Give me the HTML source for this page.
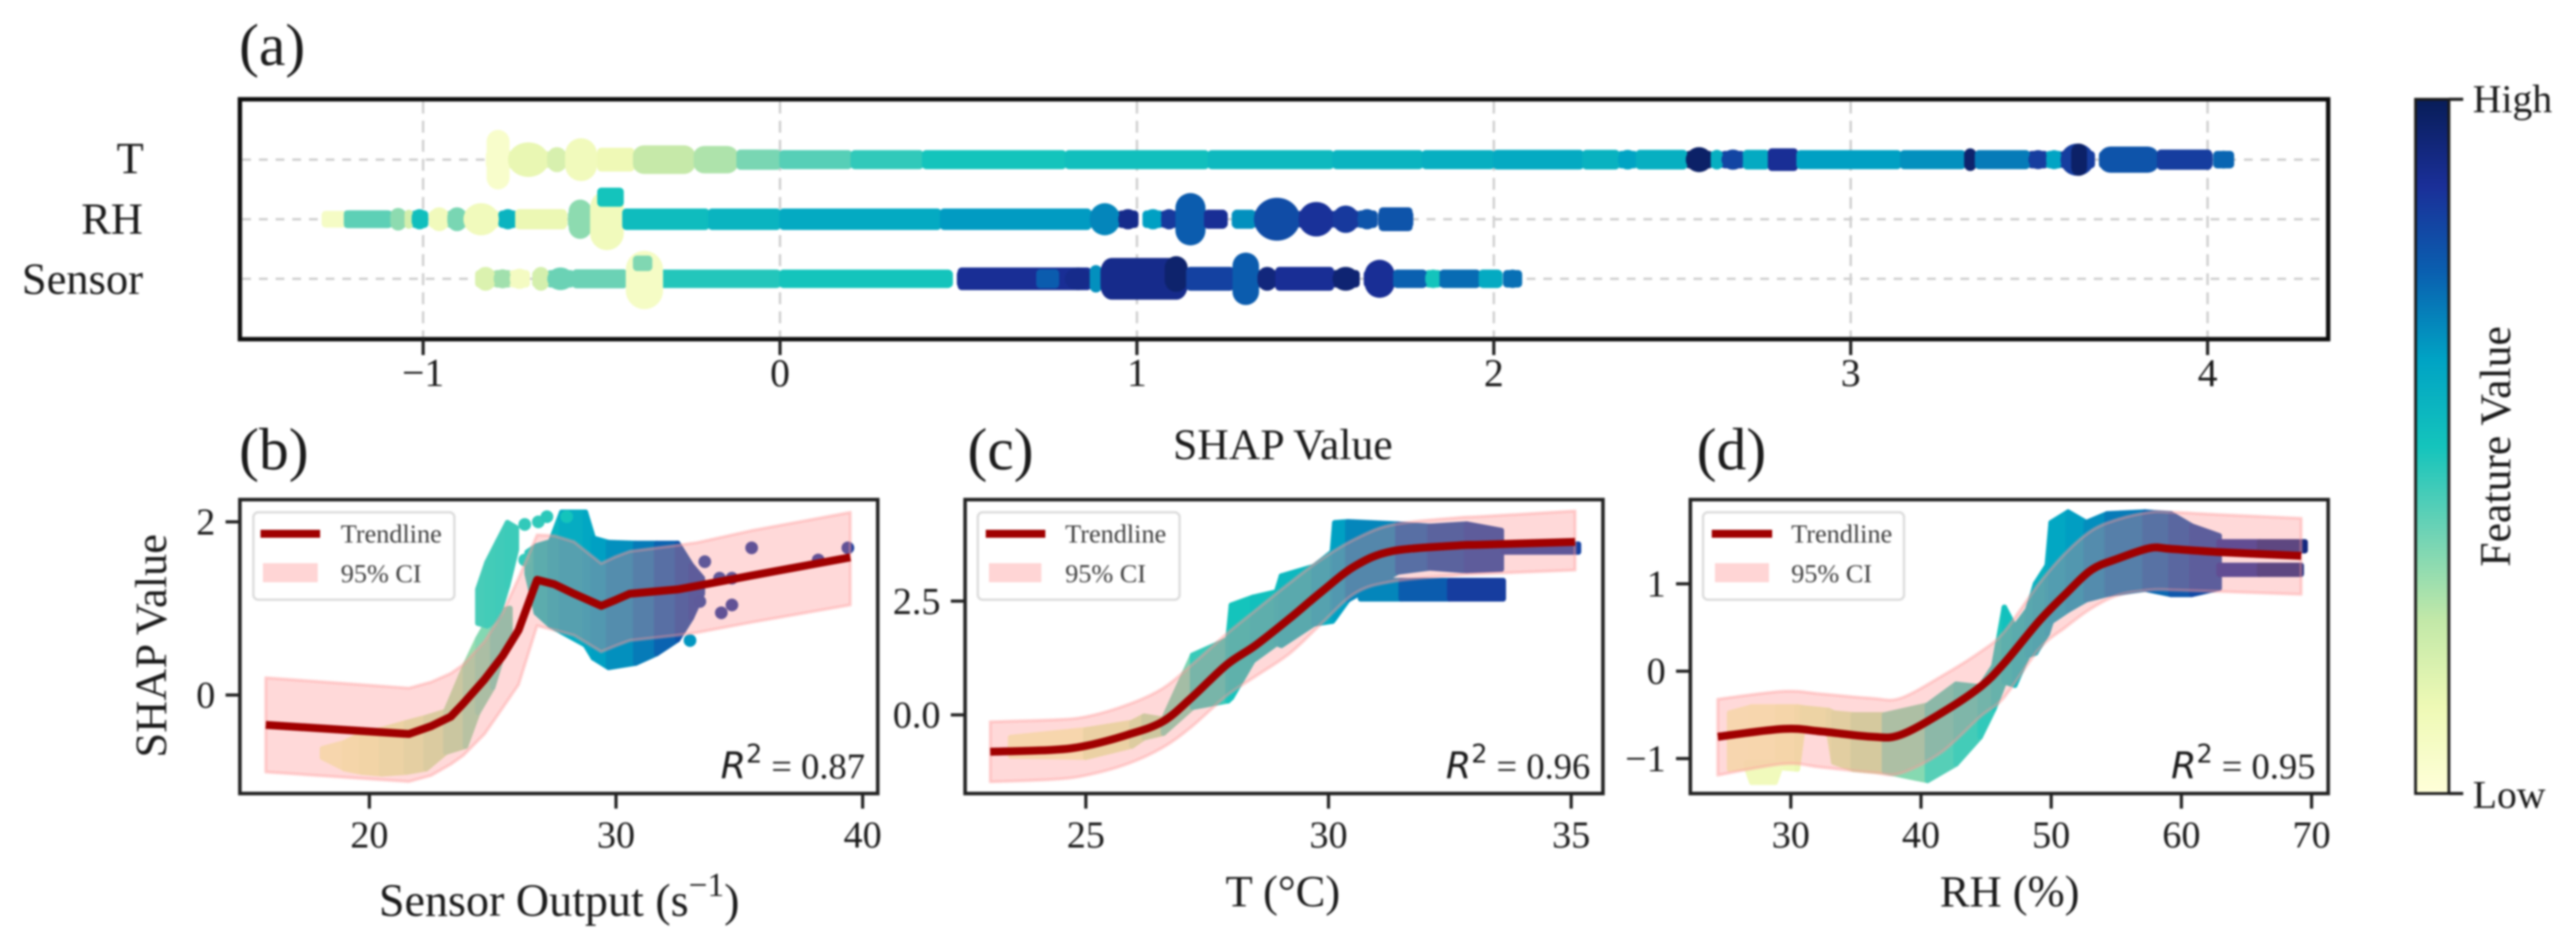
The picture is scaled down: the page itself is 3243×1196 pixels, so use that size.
<!DOCTYPE html>
<html lang="en">
<head>
<meta charset="utf-8">
<title>SHAP analysis figure</title>
<style>
html,body{margin:0;padding:0;background:#fff;}
body{width:3243px;height:1196px;overflow:hidden;}
svg{display:block;filter:blur(1.2px);}
text{font-family:"Liberation Serif",serif;fill:#1a1a1a;}
</style>
</head>
<body>
<svg id="figure" xmlns="http://www.w3.org/2000/svg" width="3243" height="1196" viewBox="0 0 3243 1196">
  <rect x="0" y="0" width="3243" height="1196" fill="#fff"/>
  <defs><linearGradient id="cbar-gradient" x1="0" y1="1" x2="0" y2="0"></linearGradient></defs>

  <text x="301" y="82" font-size="75">(a)</text>
  <text x="301" y="591" font-size="75">(b)</text>
  <text x="1218" y="591" font-size="75">(c)</text>
  <text x="2136" y="591" font-size="75">(d)</text>

  <g id="a-grid"></g>
  <g id="a-marks"></g>
  <rect x="302" y="125" width="2629" height="302" fill="none" stroke="#0c0c0c" stroke-width="5.5"/>
  <g id="a-ticks"></g>
  <text x="181" y="218" font-size="56" text-anchor="end">T</text>
  <text x="180" y="294" font-size="56" text-anchor="end">RH</text>
  <text x="180" y="370" font-size="56" text-anchor="end">Sensor</text>
  <text x="1615" y="578" font-size="55" text-anchor="middle">SHAP Value</text>

  <g id="b-marks"></g>
  <rect x="302" y="629" width="803" height="370" fill="none" stroke="#222" stroke-width="4.5"/>
  <g id="b-ticks"></g>
  <text transform="translate(209,813) rotate(-90)" font-size="56" text-anchor="middle">SHAP Value</text>
  <text x="704" y="1153" font-size="58" text-anchor="middle">Sensor Output (s<tspan font-size="42" dy="-25">−1</tspan><tspan dy="25">)</tspan></text>
  <g>
    <rect x="319" y="645" width="253" height="110" rx="6" fill="#fff" fill-opacity="0.8" stroke="#dcdcdc" stroke-width="3"/>
    <line x1="328" y1="672" x2="403" y2="672" stroke="#a00000" stroke-width="10"/>
    <rect x="331" y="709" width="69" height="24" fill="#ff8a8a" fill-opacity="0.36"/>
    <text x="429" y="683" font-size="33" fill-opacity="0.85">Trendline</text>
    <text x="429" y="733" font-size="33" fill-opacity="0.85">95% CI</text>
  </g>
  <text x="1089" y="980" text-anchor="end" font-size="46"><tspan font-family="DejaVu Sans" font-style="italic">R</tspan><tspan font-family="DejaVu Sans" font-size="32" dy="-20">2</tspan><tspan dy="20"> = 0.87</tspan></text>

  <g id="c-marks"></g>
  <rect x="1215" y="629" width="803" height="370" fill="none" stroke="#222" stroke-width="4.5"/>
  <g id="c-ticks"></g>
  <text x="1615" y="1141" font-size="56" text-anchor="middle">T (°C)</text>
  <g>
    <rect x="1231" y="645" width="254" height="110" rx="6" fill="#fff" fill-opacity="0.8" stroke="#dcdcdc" stroke-width="3"/>
    <line x1="1241" y1="672" x2="1316" y2="672" stroke="#a00000" stroke-width="10"/>
    <rect x="1245" y="709" width="66" height="24" fill="#ff8a8a" fill-opacity="0.36"/>
    <text x="1341" y="683" font-size="33" fill-opacity="0.85">Trendline</text>
    <text x="1341" y="733" font-size="33" fill-opacity="0.85">95% CI</text>
  </g>
  <text x="2002" y="980" text-anchor="end" font-size="46"><tspan font-family="DejaVu Sans" font-style="italic">R</tspan><tspan font-family="DejaVu Sans" font-size="32" dy="-20">2</tspan><tspan dy="20"> = 0.96</tspan></text>

  <g id="d-marks"></g>
  <rect x="2128" y="629" width="803" height="370" fill="none" stroke="#222" stroke-width="4.5"/>
  <g id="d-ticks"></g>
  <text x="2530" y="1141" font-size="56" text-anchor="middle">RH (%)</text>
  <g>
    <rect x="2144" y="645" width="253" height="110" rx="6" fill="#fff" fill-opacity="0.8" stroke="#dcdcdc" stroke-width="3"/>
    <line x1="2155" y1="672" x2="2231" y2="672" stroke="#a00000" stroke-width="10"/>
    <rect x="2159" y="709" width="68" height="24" fill="#ff8a8a" fill-opacity="0.36"/>
    <text x="2255" y="683" font-size="33" fill-opacity="0.85">Trendline</text>
    <text x="2255" y="733" font-size="33" fill-opacity="0.85">95% CI</text>
  </g>
  <text x="2915" y="980" text-anchor="end" font-size="46"><tspan font-family="DejaVu Sans" font-style="italic">R</tspan><tspan font-family="DejaVu Sans" font-size="32" dy="-20">2</tspan><tspan dy="20"> = 0.95</tspan></text>

  <g>
    <rect x="3041" y="125" width="42" height="874" fill="url(#cbar-gradient)" stroke="#1a1a1a" stroke-width="3.5"/>
    <line x1="3083" y1="125" x2="3101" y2="125" stroke="#222" stroke-width="4"/>
    <line x1="3083" y1="999" x2="3101" y2="999" stroke="#222" stroke-width="4"/>
    <text x="3113" y="141" font-size="50">High</text>
    <text x="3113" y="1017" font-size="50">Low</text>
    <text transform="translate(3160,562) rotate(-90)" font-size="55" text-anchor="middle">Feature Value</text>
  </g>
</svg>

<script>
/* ---------- Panel (a): beeswarm clusters ---------- */
const aTicks = [-1, 0, 1, 2, 3, 4];
const aRows = ['T', 'RH', 'Sensor'];

const tStart   = [-.82,-.76,-.65,-.6,-.51,-.41,-.24,-.12,0,.2,.4,.8,1.2,1.55,1.8,2,2.25,2.35,2.4,2.54,2.61,2.64,2.7,2.77,2.85,3.14,3.32,3.35,3.5,3.55,3.59,3.62,3.7,3.86,4.02];
const tEnd     = [-.76,-.65,-.6,-.515,-.41,-.24,-.12,0,.2,.4,.8,1.2,1.55,1.8,2,2.25,2.35,2.4,2.54,2.61,2.64,2.7,2.77,2.85,3.14,3.32,3.35,3.5,3.55,3.59,3.68,3.66,3.86,4.01,4.07];
const tSpread  = [.5,.29,.21,.36,.2,.24,.23,.17,.16,.16,.16,.16,.16,.16,.16,.165,.165,.165,.165,.21,.165,.17,.165,.19,.16,.16,.19,.16,.16,.16,.27,.27,.22,.17,.15];
const tOffset  = [0,0,0,0,0,0,0,0,0,0,0,0,0,0,0,0,0,0,0,0,0,0,0,0,0,0,0,0,0,0,0,0,0,0,0];
const tFeature = [.05,.14,.19,.1,.12,.24,.28,.36,.41,.46,.5,.52,.54,.56,.58,.6,.57,.62,.58,.97,.58,.82,.6,.88,.63,.66,.96,.7,.84,.62,.84,.97,.78,.84,.74];

const rhStart   = [-1.28,-1.22,-1.09,-1.05,-1.03,-.98,-.93,-.885,-.785,-.74,-.59,-.53,-.44,-.2,0,.45,.87,.95,1.02,1.07,1.11,1.19,1.27,1.33,1.455,1.55,1.62,1.68,-.51];
const rhEnd     = [-1.22,-1.09,-1.05,-1.03,-.99,-.93,-.88,-.79,-.74,-.6,-.53,-.44,-.2,0,.45,.87,.95,1.0,1.07,1.11,1.19,1.25,1.33,1.455,1.55,1.62,1.67,1.77,-.44];
const rhSpread  = [.14,.15,.19,.16,.17,.2,.2,.27,.17,.17,.33,.5,.18,.18,.18,.18,.27,.17,.17,.17,.44,.16,.16,.36,.29,.23,.17,.2,.16];
const rhOffset  = [0,0,0,0,0,0,0,0,0,0,0,.02,0,0,0,0,0,0,0,0,0,0,0,0,0,0,0,0,-.37];
const rhFeature = [.07,.4,.33,.2,.52,.1,.36,.1,.56,.13,.33,.1,.53,.56,.6,.64,.68,.9,.63,.85,.76,.88,.66,.8,.87,.85,.78,.78,.5];

const sStart   = [-.85,-.8,-.755,-.69,-.65,-.58,-.34,-.43,-.41,0,.5,.72,.8,.87,.9,1.08,1.14,1.27,1.34,1.39,1.55,1.64,1.72,1.81,1.85,1.96,2.03];
const sEnd     = [-.8,-.755,-.705,-.65,-.58,-.43,0,-.33,-.36,.48,.87,.78,.87,.9,1.14,1.14,1.27,1.34,1.39,1.55,1.62,1.72,1.81,1.85,1.96,2.02,2.075];
const sSpread  = [.2,.16,.17,.2,.19,.16,.155,.49,.13,.155,.19,.16,.19,.23,.35,.3,.2,.44,.2,.2,.2,.32,.155,.155,.155,.155,.155];
const sOffset  = [0,0,0,0,0,0,0,.02,-.26,0,0,0,0,0,0,-.08,0,0,0,0,0,0,0,0,0,0,0];
const sFeature = [.18,.3,.08,.2,.38,.38,.48,.07,.35,.5,.88,.76,.9,.66,.9,.96,.83,.76,.93,.88,.95,.88,.75,.5,.73,.6,.72];

/* ---------- Panel (b): SHAP vs Sensor Output ---------- */
const bTicksX = [20, 30, 40];
const bTicksY = [0, 2];
const bBandX  = [15.8,21.6,22.5,23.3,23.8,24.67,25.4,26.05,26.8,27.5,28.3,29.4,30.0,30.56,32.5,33.27,35.5,39.5];
const bTrend  = [-.345,-.45,-.36,-.25,-.1,.18,.45,.75,1.33,1.28,1.17,1.03,1.1,1.17,1.22,1.26,1.38,1.59];
const bUpper  = [.2,.08,.15,.25,.35,.62,.95,1.35,1.85,1.84,1.77,1.52,1.6,1.66,1.73,1.76,1.9,2.11];
const bLower  = [-.89,-1.0,-.93,-.8,-.7,-.45,-.15,.12,.8,.75,.69,.5,.57,.63,.69,.72,.84,1.04];

const bLowCloudX    = [18.1,19,19.7,20.5,21.5,22.3,23.1,23.9,24.4,25,25.7];
const bLowCloudLow  = [-.72,-.85,-.89,-.91,-.89,-.85,-.66,-.59,-.2,.09,.75];
const bLowCloudHigh = [-.62,-.55,-.45,-.4,-.32,-.26,-.19,.35,.65,.95,1.0];
const bLowCloudFeat = [.08,.1,.12,.14,.17,.2,.25,.3,.33,.36,.4];

const bLobeX    = [24.4,24.77,25.2,25.6,25.96];
const bLobeLow  = [.83,.8,.89,1.26,1.68];
const bLobeHigh = [1.22,1.53,1.77,1.99,1.93];
const bLobeFeat = [.43,.43,.44,.44,.45];

const bMainX    = [26.4,26.77,27.35,27.8,28.76,29.08,29.7,30.8,31.65,32.5,33.05,33.5];
const bMainLow  = [1.40,.95,.8,.73,.58,.43,.32,.37,.48,.64,.89,1.17];
const bMainHigh = [1.65,1.72,1.77,2.11,2.11,1.81,1.76,1.75,1.75,1.75,1.5,1.35];
const bMainFeat = [.45,.5,.55,.58,.6,.62,.64,.68,.72,.77,.8,.82];

const bDotX    = [26.3,26.85,27.2,26.3,28,33.6,35.5,39.4,38.2,34.2,34.7,33.4,34.27,34.7,33];
const bDotY    = [1.97,2.0,2.06,1.56,2.06,1.54,1.70,1.70,1.56,1.35,1.35,1.08,.95,1.04,.63];
const bDotFeat = [.46,.46,.47,.46,.5,.83,.85,.85,.85,.83,.83,.82,.85,.85,.65];

/* ---------- Panel (c): SHAP vs T ---------- */
const cTicksX = [25, 30, 35];
const cTicksY = [0, 2.5];
const cTickLabelsY = ['0.0', '2.5'];
const cBandX  = [23.03,24.3,25,25.85,26.58,27.18,27.9,28.5,29.2,29.85,30.56,31.32,32.63,33.15,35.08];
const cTrend  = [-.81,-.77,-.68,-.44,-.15,.38,1.1,1.53,2.12,2.7,3.28,3.6,3.72,3.74,3.8];
const cUpper  = [-.15,-.11,-.04,.22,.58,1.1,1.78,2.3,2.9,3.42,3.87,4.18,4.33,4.36,4.48];
const cLower  = [-1.47,-1.42,-1.33,-1.08,-.72,-.26,.42,.85,1.35,2.0,2.68,2.93,3.07,3.1,3.18];

const cMainX    = [23.45,25,25.95,26.2,26.6,27.2,27.93,28.0,28.44,28.93,29.03,29.7,30.08,30.13,30.4,31.43,32.09,32.85,33.56];
const cMainHigh = [-.5,-.33,-.17,-.03,-.1,1.31,1.66,2.41,2.58,2.7,3.05,3.26,3.58,4.22,4.24,4.19,4.14,4.19,4.05];
const cMainLow  = [-.9,-.93,-.68,-.5,-.4,.17,.31,.38,1.19,1.57,1.53,2.0,2.06,2.13,2.53,3.14,3.23,3.17,3.2];
const cMainFeat = [.06,.12,.2,.24,.3,.42,.48,.5,.5,.53,.53,.56,.6,.62,.64,.72,.77,.8,.82];

const cBranchX    = [30.66,31.5,32.5,33.6];
const cBranchLow  = [2.55,2.55,2.55,2.55];
const cBranchHigh = [2.95,2.95,2.95,2.95];
const cBranchFeat = [.64,.72,.8,.88];

const cTailX    = [33.6,35.15];
const cTailLow  = [3.58,3.58];
const cTailHigh = [3.75,3.75];
const cTailFeat = [.82,.84];

/* ---------- Panel (d): SHAP vs RH ---------- */
const dTicksX = [30, 40, 50, 60, 70];
const dTicksY = [-1, 0, 1];
const dBandX  = [24.39,29.46,32.35,36.25,38.4,41.55,44.55,46.38,49.05,51.08,53.1,55.15,57.6,59.2,63.3,69.2];
const dTrend  = [-.75,-.66,-.69,-.75,-.73,-.48,-.18,.09,.57,.88,1.16,1.29,1.41,1.4,1.36,1.32];
const dUpper  = [-.32,-.23,-.26,-.31,-.31,-.06,.22,.45,1.0,1.35,1.61,1.74,1.82,1.82,1.79,1.75];
const dLower  = [-1.19,-1.06,-1.1,-1.16,-1.17,-.93,-.52,-.3,.25,.5,.72,.87,.93,.93,.91,.88];

const dMainX    = [25.3,27,29,30.5,30.9,32.9,33.3,34.8,37.2,40.5,42.7,44.55,45.6,46.4,47.2,48.2,48.8,49.7,50,51.3,52.7,54.3,57.2,59.2,60.8,62.9];
const dMainHigh = [-.48,-.41,-.41,-.41,-.42,-.45,-.48,-.5,-.5,-.39,-.15,-.18,.06,.73,.5,.7,1.0,1.21,1.7,1.82,1.7,1.8,1.82,1.8,1.66,1.55];
const dMainLow  = [-1.12,-1.1,-1.1,-1.12,-.67,-.67,-1.04,-1.12,-1.15,-1.25,-1.06,-.75,-.43,-.12,-.16,.18,.21,.43,.57,.7,.82,.88,.94,.88,.88,.95];
const dMainFeat = [.08,.08,.1,.12,.14,.16,.18,.22,.28,.4,.42,.45,.47,.5,.52,.55,.56,.58,.6,.62,.65,.68,.72,.75,.79,.82];

const dPaleLobeX    = [26.6,27,28.8,29.2];
const dPaleLobeLow  = [-1.1,-1.27,-1.27,-1.1];
const dPaleLobeHigh = [-1.05,-1.05,-1.05,-1.05];
const dPaleLobeFeat = [.1,.1,.1,.1];

const dUpperTailX    = [62.9,66,69.5];
const dUpperTailLow  = [1.38,1.38,1.38];
const dUpperTailHigh = [1.48,1.48,1.48];
const dUpperTailFeat = [.84,.9,.95];

const dLowerTailX    = [62.9,66,69.2];
const dLowerTailLow  = [1.11,1.11,1.11];
const dLowerTailHigh = [1.21,1.21,1.21];
const dLowerTailFeat = [.84,.9,.95];

/* ---------- Colour map (approximate YlGnBu as it appears in the figure) ---------- */
const cmapStops  = [0,.125,.25,.375,.5,.625,.75,.875,1];
const cmapColors = [[255,255,217],[238,249,181],[194,232,168],[111,211,181],[20,196,188],[0,163,196],[10,96,176],[26,47,152],[8,29,88]];

function featureColor(v){
  const f = Math.max(0, Math.min(1, v));
  let i = 0;
  while (i < cmapStops.length - 2 && f > cmapStops[i + 1]) i++;
  const t = (f - cmapStops[i]) / (cmapStops[i + 1] - cmapStops[i]);
  const a = cmapColors[i], b = cmapColors[i + 1];
  return 'rgb(' + [0, 1, 2].map(k => Math.round(a[k] + (b[k] - a[k]) * t)).join(',') + ')';
}

const NS = 'http://www.w3.org/2000/svg';
function make(parent, tag, attrs, text){
  const el = document.createElementNS(NS, tag);
  for (const k in attrs) el.setAttribute(k, attrs[k]);
  if (text !== undefined) el.textContent = text;
  parent.appendChild(el);
  return el;
}
function linear(px0, v0, pxPerUnit){ return v => px0 + (v - v0) * pxPerUnit; }

/* Catmull-Rom curve through the given pixel points; returns path commands after the first point */
function curveThrough(pts){
  let d = '';
  for (let i = 0; i < pts.length - 1; i++){
    const p0 = pts[Math.max(i - 1, 0)], p1 = pts[i], p2 = pts[i + 1], p3 = pts[Math.min(i + 2, pts.length - 1)];
    const c1x = p1[0] + (p2[0] - p0[0]) / 6, c1y = p1[1] + (p2[1] - p0[1]) / 6;
    const c2x = p2[0] - (p3[0] - p1[0]) / 6, c2y = p2[1] - (p3[1] - p1[1]) / 6;
    d += ' C' + c1x + ',' + c1y + ' ' + c2x + ',' + c2y + ' ' + p2[0] + ',' + p2[1];
  }
  return d;
}

/* axis functions */
const xA = linear(982, 0, 449.3);
const yA = linear(201, 0, 75);
const xB = linear(465, 20, 31.05);
const yB = linear(875, 0, -109);
const xC = linear(1367, 25, 61.1);
const yC = linear(900, 0, -57.3);
const xD = linear(2254.5, 30, 16.39);
const yD = linear(845, 0, -110);

/* colourbar */
const cbarDefs = document.getElementById('cbar-gradient');
cmapStops.forEach((s, i) => {
  make(cbarDefs, 'stop', {offset: s, 'stop-color': featureColor(s)});
});

/* ---------- Panel (a) ---------- */
const aGrid = document.getElementById('a-grid');
const aMarks = document.getElementById('a-marks');
const aAxis = document.getElementById('a-ticks');

aTicks.forEach(t => {
  const g = make(aGrid, 'line', {x1: xA(t), x2: xA(t), y1: 128, y2: 424, stroke: '#cfcfcf', 'stroke-width': 3, 'stroke-dasharray': '15 9'});
  
  
  const tk = make(aAxis, 'line', {x1: xA(t), x2: xA(t), y1: 427, y2: 447, stroke: '#222', 'stroke-width': 4});
  
  
  const lb = make(aAxis, 'text', {x: xA(t), y: 486, 'font-size': 50, 'text-anchor': 'middle'}, String(t).replace('-', '\u2212'));
  
  
});
aRows.forEach((r, i) => {
  const g = make(aGrid, 'line', {x1: 305, x2: 2928, y1: yA(i), y2: yA(i), stroke: '#cfcfcf', 'stroke-width': 3, 'stroke-dasharray': '11 10'});
  
  
});

function drawRow(rowIndex, starts, ends, spreads, offsets, feats, name){
  /* continuous core of the row first, so neighbouring clusters never leave white gaps */
  starts.forEach((s, i) => {
    if (offsets[i] !== 0) return;
    const x0 = xA(s) - 2, x1 = xA(ends[i]) + 2;
    const cy = yA(rowIndex);
    const half = Math.min(yA(spreads[i]) - yA(0), 11);
    const core = make(aMarks, 'rect', {
      x: x0, y: cy - half, width: Math.max(1, x1 - x0), height: half * 2,
      rx: Math.min((x1 - x0) / 2, 5), fill: featureColor(feats[i])
    });
    
    
  });
  starts.forEach((s, i) => {
    const x0 = xA(s) - 1, x1 = xA(ends[i]) + 1;
    const w = Math.max(1, x1 - x0);
    const cy = yA(rowIndex + offsets[i]);
    const half = yA(spreads[i]) - yA(0);
    const dotLike = w <= half * 2.4;
    const rect = make(aMarks, 'rect', {
      x: x0, y: cy - half, width: w, height: half * 2,
      rx: dotLike ? w / 2 : (half > 16 ? Math.min(w / 3, 14) : 5),
      ry: dotLike ? Math.min(w / 2, half) : (half > 16 ? Math.min(half * .7, 18) : 5),
      fill: featureColor(feats[i])
    });
    
    
  });
}
drawRow(0, tStart, tEnd, tSpread, tOffset, tFeature, 't-shap-cluster');
drawRow(1, rhStart, rhEnd, rhSpread, rhOffset, rhFeature, 'rh-shap-cluster');
drawRow(2, sStart, sEnd, sSpread, sOffset, sFeature, 'sensor-shap-cluster');

/* ---------- Dependence panels ---------- */
function drawCloud(g, xs, lows, highs, feats, sx, sy, name){
  for (let i = 0; i < xs.length - 1; i++){
    const pts = [
      [sx(xs[i]), sy(highs[i])], [sx(xs[i + 1]), sy(highs[i + 1])],
      [sx(xs[i + 1]), sy(lows[i + 1])], [sx(xs[i]), sy(lows[i])]
    ].map(p => p.join(',')).join(' ');
    const col = featureColor((feats[i] + feats[i + 1]) / 2);
    const poly = make(g, 'polygon', {points: pts, fill: col, stroke: col, 'stroke-width': 7, 'stroke-linejoin': 'round'});
    
    
  }
}
function drawDots(g, xs, ys, feats, sx, sy, name){
  xs.forEach((x, i) => {
    const c = make(g, 'circle', {cx: sx(x), cy: sy(ys[i]), r: 8, fill: featureColor(feats[i])});
    
    
  });
}
function drawBand(g, xs, upper, lower, sx, sy, smooth){
  const top = xs.map((x, i) => [sx(x), sy(upper[i])]);
  const bottom = xs.map((x, i) => [sx(x), sy(lower[i])]).reverse();
  let d;
  if (smooth){
    d = 'M' + top[0].join(',') + curveThrough(top) + ' L' + bottom[0].join(',') + curveThrough(bottom) + ' Z';
  } else {
    d = 'M' + top.concat(bottom).map(p => p.join(',')).join(' L') + ' Z';
  }
  const band = make(g, 'path', {
    d: d, fill: '#ff8a8a', 'fill-opacity': 0.32,
    stroke: '#ff9a9a', 'stroke-opacity': 0.4, 'stroke-width': 4, 'stroke-linejoin': 'round'
  });
  
  
}
function drawTrend(g, xs, ys, sx, sy, smooth){
  const pts = xs.map((x, i) => [sx(x), sy(ys[i])]);
  const d = smooth
    ? 'M' + pts[0].join(',') + curveThrough(pts)
    : 'M' + pts.map(p => p.join(',')).join(' L');
  const line = make(g, 'path', {
    d: d, fill: 'none', stroke: '#a00000', 'stroke-width': 10, 'stroke-linejoin': 'round', 'stroke-linecap': 'butt'
  });
  
  
}
function drawAxes(g, ticksX, ticksY, labelsY, sx, sy, axisLeft, axisBottom){
  ticksX.forEach(t => {
    const tk = make(g, 'line', {x1: sx(t), x2: sx(t), y1: axisBottom, y2: axisBottom + 19, stroke: '#222', 'stroke-width': 4});
    
    
    const lb = make(g, 'text', {x: sx(t), y: 1067, 'font-size': 48, 'text-anchor': 'middle'}, String(t));
    
    
  });
  ticksY.forEach((t, i) => {
    const tk = make(g, 'line', {x1: axisLeft - 18, x2: axisLeft, y1: sy(t), y2: sy(t), stroke: '#222', 'stroke-width': 4});
    
    
    const lb = make(g, 'text', {x: axisLeft - 31, y: sy(t) + 16, 'font-size': 48, 'text-anchor': 'end'}, labelsY ? labelsY[i] : String(t).replace('-', '\u2212'));
    
    
  });
}

/* panel b */
const bG = document.getElementById('b-marks');
drawCloud(bG, bLowCloudX, bLowCloudLow, bLowCloudHigh, bLowCloudFeat, xB, yB, 'sensor-scatter-cloud');
drawCloud(bG, bLobeX, bLobeLow, bLobeHigh, bLobeFeat, xB, yB, 'sensor-scatter-lobe');
drawCloud(bG, bMainX, bMainLow, bMainHigh, bMainFeat, xB, yB, 'sensor-scatter-cloud');
drawDots(bG, bDotX, bDotY, bDotFeat, xB, yB, 'sensor-scatter-point');
drawBand(bG, bBandX, bUpper, bLower, xB, yB, false);
drawTrend(bG, bBandX, bTrend, xB, yB, false);
drawAxes(document.getElementById('b-ticks'), bTicksX, bTicksY, null, xB, yB, 302, 999);

/* panel c */
const cG = document.getElementById('c-marks');
drawCloud(cG, cMainX, cMainLow, cMainHigh, cMainFeat, xC, yC, 'temperature-scatter-cloud');
drawCloud(cG, cBranchX, cBranchLow, cBranchHigh, cBranchFeat, xC, yC, 'temperature-scatter-branch');
drawCloud(cG, cTailX, cTailLow, cTailHigh, cTailFeat, xC, yC, 'temperature-scatter-tail');
drawBand(cG, cBandX, cUpper, cLower, xC, yC, true);
drawTrend(cG, cBandX, cTrend, xC, yC, true);
drawAxes(document.getElementById('c-ticks'), cTicksX, cTicksY, cTickLabelsY, xC, yC, 1215, 999);

/* panel d */
const dG = document.getElementById('d-marks');
drawCloud(dG, dMainX, dMainLow, dMainHigh, dMainFeat, xD, yD, 'humidity-scatter-cloud');
drawCloud(dG, dPaleLobeX, dPaleLobeLow, dPaleLobeHigh, dPaleLobeFeat, xD, yD, 'humidity-scatter-pale-lobe');
drawCloud(dG, dUpperTailX, dUpperTailLow, dUpperTailHigh, dUpperTailFeat, xD, yD, 'humidity-scatter-upper-tail');
drawCloud(dG, dLowerTailX, dLowerTailLow, dLowerTailHigh, dLowerTailFeat, xD, yD, 'humidity-scatter-lower-tail');
drawBand(dG, dBandX, dUpper, dLower, xD, yD, true);
drawTrend(dG, dBandX, dTrend, xD, yD, true);
drawAxes(document.getElementById('d-ticks'), dTicksX, dTicksY, null, xD, yD, 2128, 999);
</script>
</body>
</html>
